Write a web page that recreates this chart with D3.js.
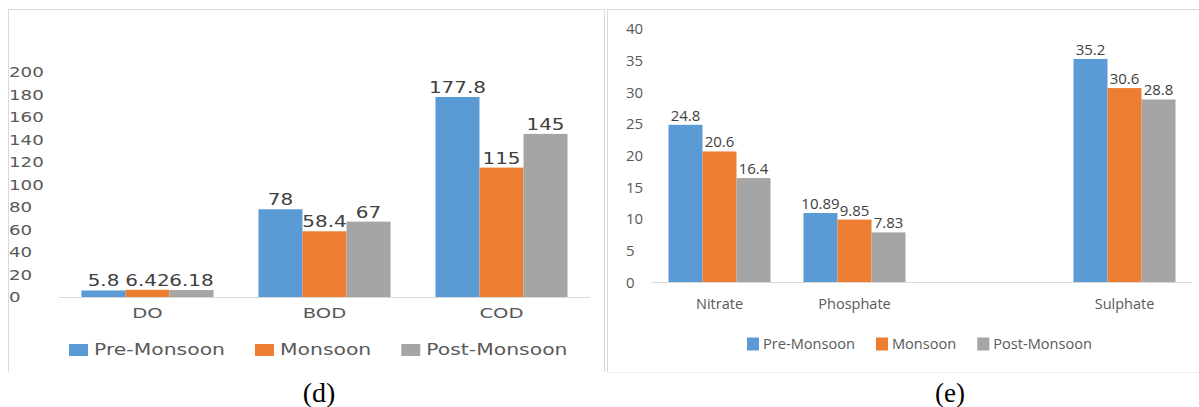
<!DOCTYPE html>
<html>
<head>
<meta charset="utf-8">
<script src="https://cdn.jsdelivr.net/npm/d3@7"></script>
<style>
  body { margin: 0; background: #fff; }
  svg { display: block; }
</style>
</head>
<body>
<div id="chart"></div>
<script>
// series names and colours shared by both panels
const seasons = ["Pre-Monsoon", "Monsoon", "Post-Monsoon"];
const seasonColors = ["#5b9bd5", "#ed7d31", "#a5a5a5"];

// panel (d)
const leftCategories = ["DO", "BOD", "COD"];
const leftPreMonsoon = [5.8, 78, 177.8];
const leftMonsoon = [6.42, 58.4, 115];
const leftPostMonsoon = [6.18, 67, 145];
const leftTicks = [0, 20, 40, 60, 80, 100, 120, 140, 160, 180, 200];

// panel (e) - third slot is empty in the original
const rightCategories = ["Nitrate", "Phosphate", "", "Sulphate"];
const rightPreMonsoon = [24.8, 10.89, null, 35.2];
const rightMonsoon = [20.6, 9.85, null, 30.6];
const rightPostMonsoon = [16.4, 7.83, null, 28.8];
const rightTicks = [0, 5, 10, 15, 20, 25, 30, 35, 40];

const width = 1199, height = 407;

const svg = d3.select("#chart").append("svg")
  .attr("width", width)
  .attr("height", height);

svg.append("rect").attr("width", width).attr("height", height).attr("fill", "#fff");

// panel frames
const frame = svg.append("g").attr("stroke", "#d9d9d9").attr("stroke-width", 1);
frame.append("line").attr("x1", 8).attr("x2", 605).attr("y1", 9.5).attr("y2", 9.5);
frame.append("line").attr("x1", 8.5).attr("x2", 8.5).attr("y1", 9).attr("y2", 372);
frame.append("line").attr("x1", 604.5).attr("x2", 604.5).attr("y1", 9).attr("y2", 372);
frame.append("line").attr("x1", 607.5).attr("x2", 607.5).attr("y1", 9).attr("y2", 372);
frame.append("line").attr("x1", 607).attr("x2", width).attr("y1", 9.5).attr("y2", 9.5);
frame.append("line").attr("x1", 607).attr("x2", width).attr("y1", 372.5).attr("y2", 372.5)
  .attr("stroke", "#f0f0f0");

function drawPanel(cfg) {
  const g = svg.append("g");
  const sx = cfg.stretch;

  const rows = cfg.categories.map((c, i) => ({
    category: c,
    values: cfg.series.map((s, j) => ({ key: seasons[j], value: s[i], color: seasonColors[j] }))
  }));

  const y = d3.scaleLinear().domain(cfg.yDomain).range(cfg.yRange);
  const x0 = d3.scaleBand().domain(cfg.categories).range(cfg.xRange).padding(0);
  const x1 = d3.scaleBand().domain(seasons).range([0, x0.bandwidth()])
    .paddingInner(0).paddingOuter(cfg.groupPad);

  // y axis labels (left aligned, no line)
  const yAxis = g.append("g")
    .attr("transform", `translate(${cfg.tickX},0)`)
    .call(d3.axisLeft(y).tickValues(cfg.ticks).tickSize(0).tickPadding(0));
  yAxis.select(".domain").remove();
  yAxis.selectAll("text")
    .attr("x", 0)
    .attr("dy", "0.35em")
    .attr("text-anchor", "start")
    .attr("transform", `scale(${sx},1)`)
    .attr("fill", "#595959")
    .style("font-family", cfg.font)
    .style("font-size", cfg.tickSize + "px");

  // bars
  const groups = g.selectAll(".grp")
    .data(rows)
    .join("g")
    .attr("transform", d => `translate(${x0(d.category)},0)`);

  groups.selectAll("rect")
    .data(d => d.values.filter(v => v.value != null))
    .join("rect")
    .attr("x", d => x1(d.key))
    .attr("width", x1.bandwidth())
    .attr("y", d => y(d.value))
    .attr("height", d => y(0) - y(d.value))
    .attr("fill", d => d.color);

  groups.selectAll("text")
    .data(d => d.values.filter(v => v.value != null))
    .join("text")
    .attr("transform", d => `translate(${x1(d.key) + x1.bandwidth() / 2},${y(d.value) - 4}) scale(${sx},1)`)
    .attr("text-anchor", "middle")
    .attr("fill", "#404040")
    .style("font-family", cfg.font)
    .style("font-size", cfg.valueSize + "px")
    .text(d => d.value);

  // baseline
  g.append("line")
    .attr("x1", cfg.xRange[0]).attr("x2", cfg.xRange[1])
    .attr("y1", y(0) + 0.5).attr("y2", y(0) + 0.5)
    .attr("stroke", "#d9d9d9");

  // category axis
  const xAxis = g.append("g")
    .attr("transform", `translate(0,${cfg.catBaseline})`)
    .call(d3.axisBottom(x0).tickSize(0));
  xAxis.select(".domain").remove();
  xAxis.selectAll("text")
    .attr("y", 0)
    .attr("dy", null)
    .attr("transform", `scale(${sx},1)`)
    .attr("fill", "#595959")
    .style("font-family", cfg.font)
    .style("font-size", cfg.catSize + "px");

  // legend
  const legend = g.append("g");
  let lx = cfg.legendX;
  seasons.forEach((s, i) => {
    legend.append("rect")
      .attr("x", lx)
      .attr("y", cfg.legendY - cfg.swatchH / 2)
      .attr("width", cfg.swatchW)
      .attr("height", cfg.swatchH)
      .attr("fill", seasonColors[i]);
    lx += cfg.swatchW + cfg.swatchGap;
    const t = legend.append("text")
      .attr("transform", `translate(${lx},${cfg.legendY}) scale(${sx},1)`)
      .attr("dy", "0.35em")
      .attr("fill", "#595959")
      .style("font-family", cfg.font)
      .style("font-size", cfg.legendSize + "px")
      .text(s);
    lx += t.node().getComputedTextLength() * sx + cfg.itemGap;
  });
}

drawPanel({
  categories: leftCategories,
  series: [leftPreMonsoon, leftMonsoon, leftPostMonsoon],
  ticks: leftTicks,
  yDomain: [0, 200],
  yRange: [297, 72],
  xRange: [59, 590],
  groupPad: 0.51,
  tickX: 9,
  font: "'DejaVu Sans', Verdana, sans-serif",
  stretch: 1.33,
  tickSize: 13.7,
  valueSize: 15,
  catSize: 14.7,
  catBaseline: 318,
  legendSize: 15.3,
  legendX: 69,
  legendY: 350,
  swatchW: 19,
  swatchH: 12,
  swatchGap: 6,
  itemGap: 30
});

drawPanel({
  categories: rightCategories,
  series: [rightPreMonsoon, rightMonsoon, rightPostMonsoon],
  ticks: rightTicks,
  yDomain: [0, 40],
  yRange: [282, 28.5],
  xRange: [652, 1192],
  groupPad: 0.485,
  tickX: 626,
  font: "'Open Sans', sans-serif",
  stretch: 1,
  tickSize: 15,
  valueSize: 15,
  catSize: 14.5,
  catBaseline: 309,
  legendSize: 14.6,
  legendX: 747,
  legendY: 344,
  swatchW: 12,
  swatchH: 13,
  swatchGap: 4,
  itemGap: 21
});

// captions
svg.append("text")
  .attr("x", 319).attr("y", 402)
  .attr("text-anchor", "middle")
  .style("font-family", "'Liberation Serif', 'Times New Roman', serif")
  .style("font-size", "28px")
  .attr("fill", "#000")
  .text("(d)");

svg.append("text")
  .attr("x", 950).attr("y", 402)
  .attr("text-anchor", "middle")
  .style("font-family", "'Liberation Serif', 'Times New Roman', serif")
  .style("font-size", "27px")
  .attr("fill", "#000")
  .text("(e)");
</script>
</body>
</html>
